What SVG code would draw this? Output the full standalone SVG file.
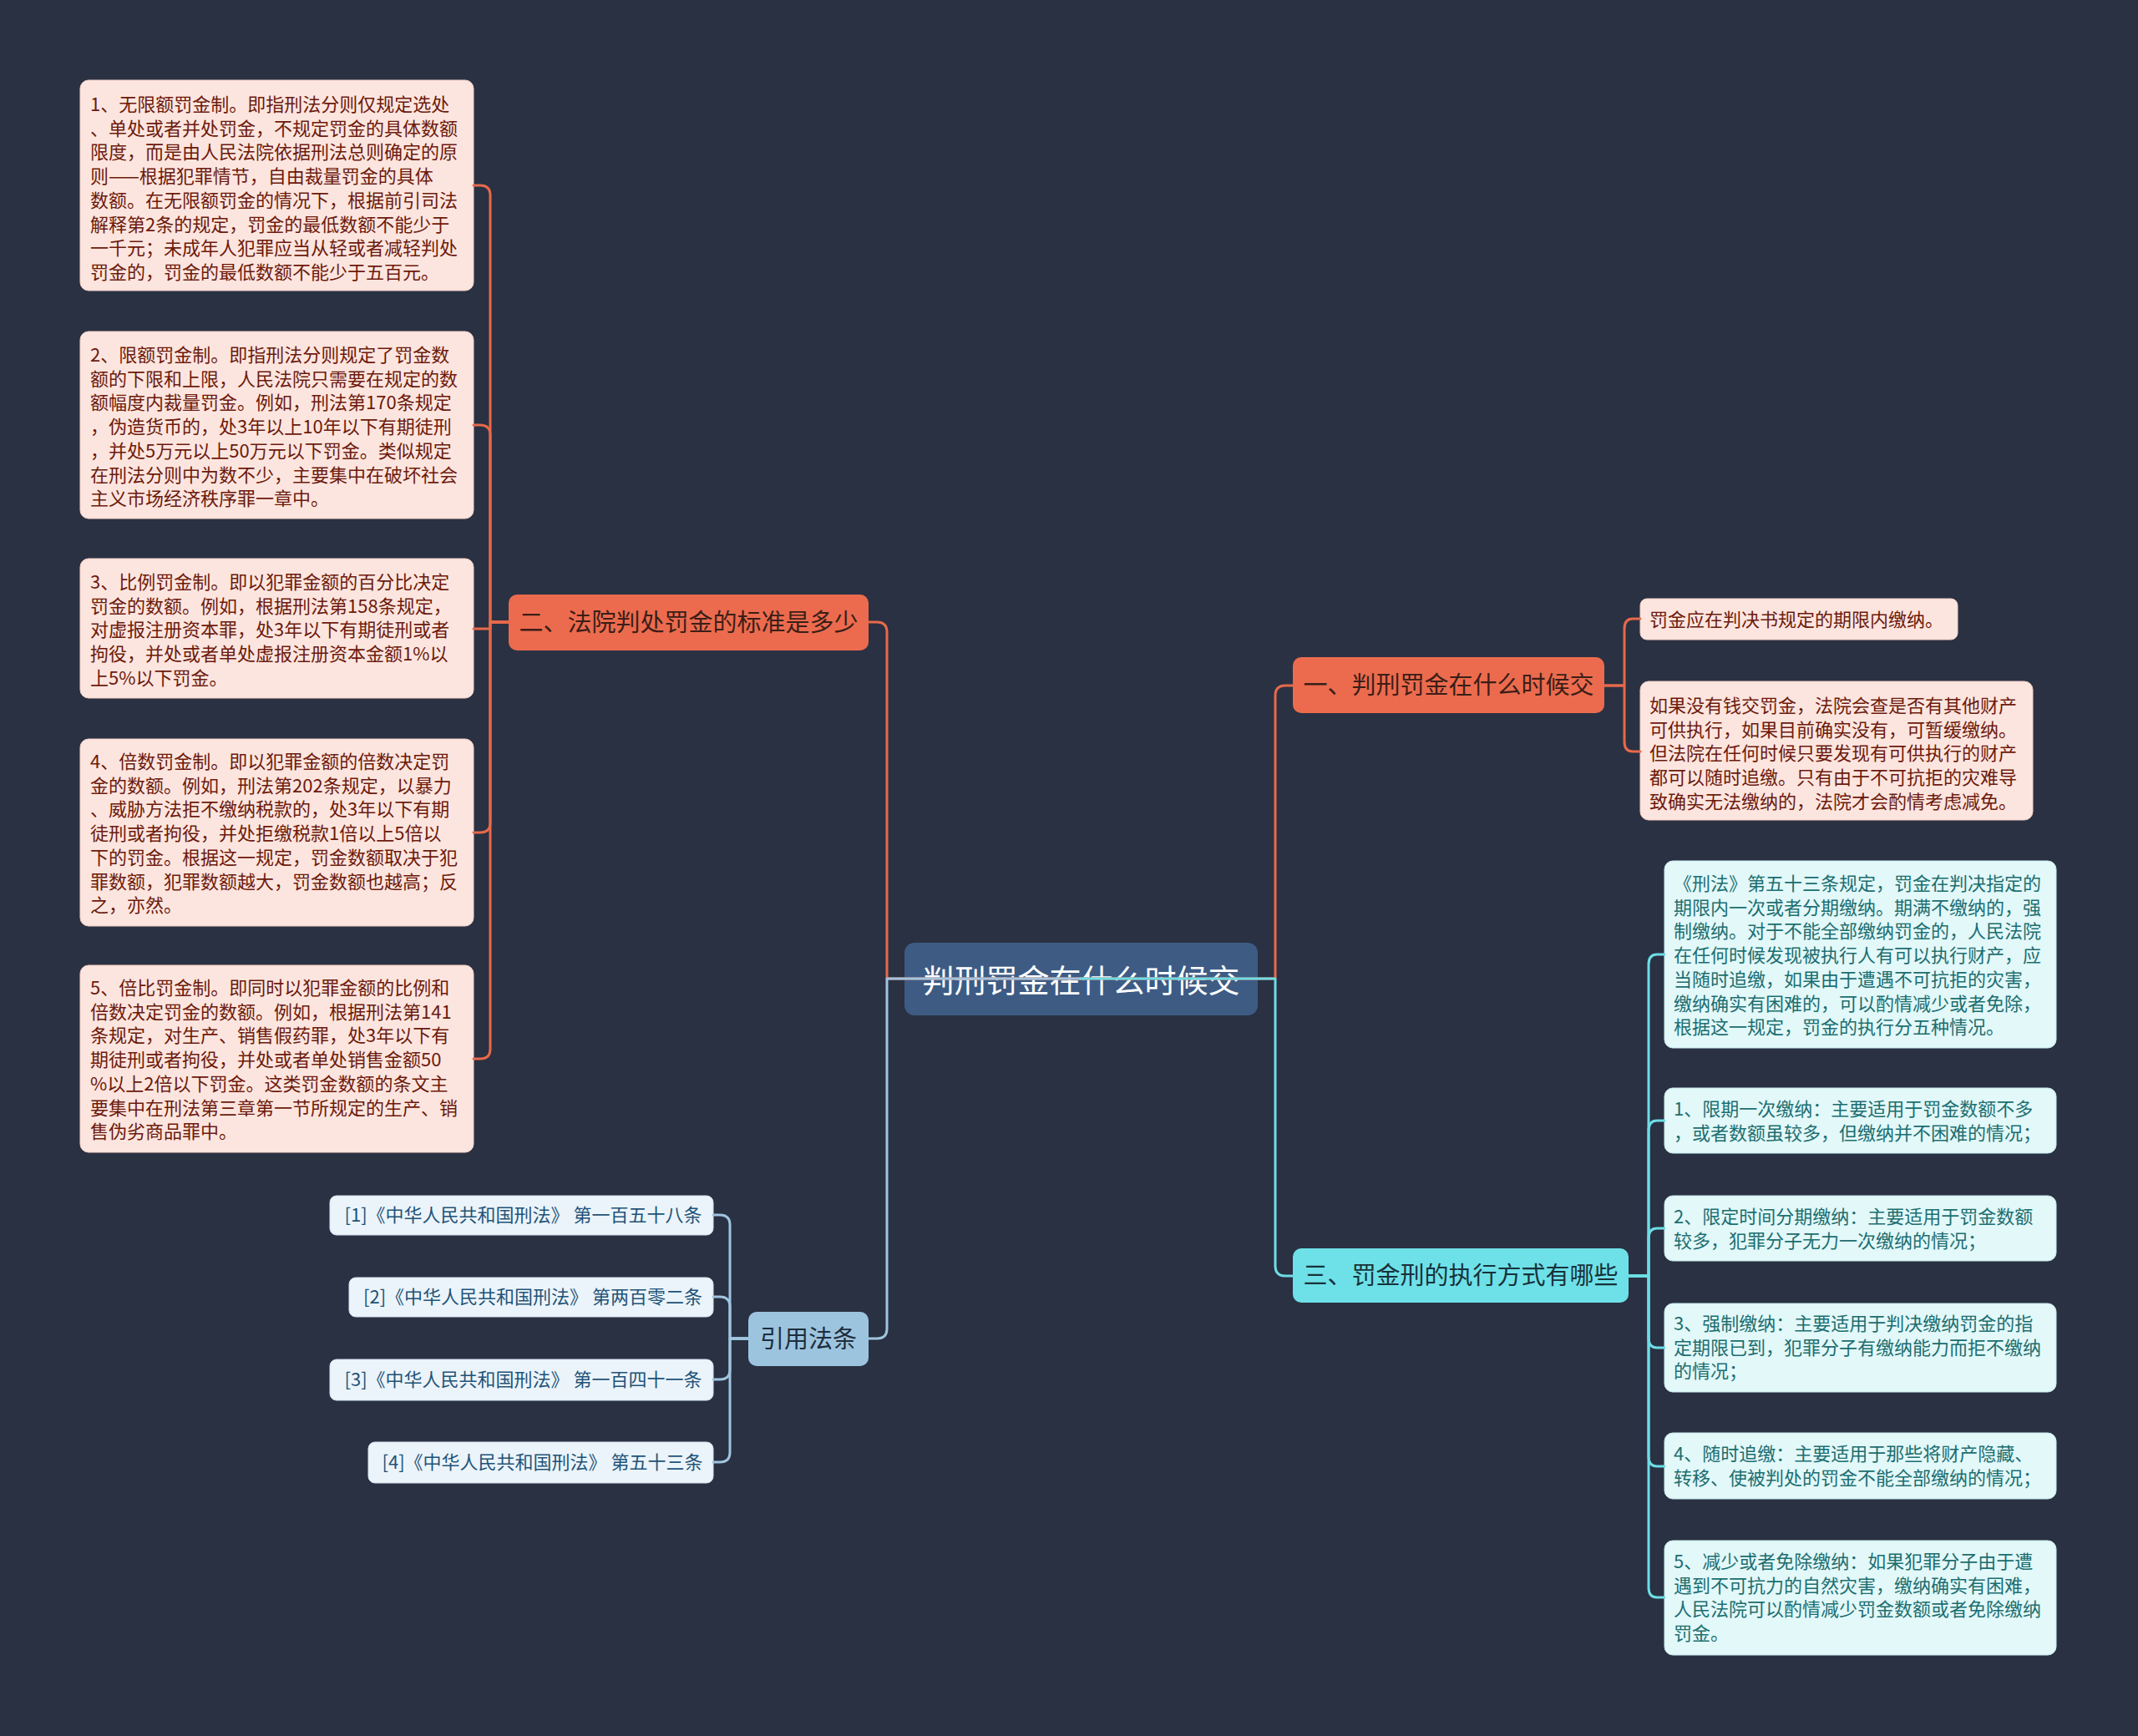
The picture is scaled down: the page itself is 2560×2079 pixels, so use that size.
<svg xmlns="http://www.w3.org/2000/svg" width="2560" height="2079" viewBox="0 0 2560 2079">
<style>
text{font-family:"Noto Sans CJK SC","Noto Sans",sans-serif;}
.bg{fill:#2A3142;}
.root{fill:#3E5B84;}
.rootT{fill:#FFFFFF;font-size:38px;text-anchor:middle;}
.br{fill:#EC6B4E;}
.brT{fill:#3B1E17;font-size:29px;text-anchor:middle;}
.cy{fill:#6EE0E8;}
.cyT{fill:#17323A;font-size:29px;text-anchor:middle;}
.bl{fill:#9DC4DF;}
.blT{fill:#1E2D3B;font-size:29px;text-anchor:middle;}
.pk{fill:#FDE5DF;stroke:#F2CFC6;stroke-width:1;}
.pkT{fill:#6C1A0C;font-size:22px;}
.lc{fill:#E2F8F9;stroke:#C8ECEE;stroke-width:1;}
.lcT{fill:#1C6E70;font-size:22px;}
.rf{fill:#EBF4FA;stroke:#D0E2EE;stroke-width:1;}
.rfT{fill:#1F5378;font-size:22px;text-anchor:middle;}
.c{fill:none;stroke-width:3;stroke-linecap:round;stroke-linejoin:round;}
.co{stroke:#E8694A;}
.cb{stroke:#9FC5E0;}
.cc{stroke:#6DDDE5;}
</style>
<rect class="bg" x="0" y="0" width="2560" height="2079"/>

<g id="nodes">
<g id="root">
<rect class="root" x="1083" y="1129" width="423" height="87" rx="12"/>
<text class="rootT" x="1294.5" y="1188">判刑罚金在什么时候交</text>
</g>

<g id="b2">
<rect class="br" x="609" y="712" width="431" height="67" rx="10"/>
<text class="brT" x="824.5" y="756">二、法院判处罚金的标准是多少</text>
</g>

<g id="b2-1">
<rect class="pk" x="96" y="96" width="471" height="252" rx="10"/>
<text class="pkT"><tspan x="108" y="133">1、无限额罚金制。即指刑法分则仅规定选处</tspan><tspan x="108" y="161.7">、单处或者并处罚金，不规定罚金的具体数额</tspan><tspan x="108" y="190.4">限度，而是由人民法院依据刑法总则确定的原</tspan><tspan x="108" y="219.1">则——根据犯罪情节，自由裁量罚金的具体</tspan><tspan x="108" y="247.8">数额。在无限额罚金的情况下，根据前引司法</tspan><tspan x="108" y="276.5">解释第2条的规定，罚金的最低数额不能少于</tspan><tspan x="108" y="305.2">一千元；未成年人犯罪应当从轻或者减轻判处</tspan><tspan x="108" y="333.9">罚金的，罚金的最低数额不能少于五百元。</tspan></text>
</g>

<g id="b2-2">
<rect class="pk" x="96" y="397" width="471" height="224" rx="10"/>
<text class="pkT"><tspan x="108" y="433">2、限额罚金制。即指刑法分则规定了罚金数</tspan><tspan x="108" y="461.7">额的下限和上限，人民法院只需要在规定的数</tspan><tspan x="108" y="490.4">额幅度内裁量罚金。例如，刑法第170条规定</tspan><tspan x="108" y="519.1">，伪造货币的，处3年以上10年以下有期徒刑</tspan><tspan x="108" y="547.8">，并处5万元以上50万元以下罚金。类似规定</tspan><tspan x="108" y="576.5">在刑法分则中为数不少，主要集中在破坏社会</tspan><tspan x="108" y="605.2">主义市场经济秩序罪一章中。</tspan></text>
</g>

<g id="b2-3">
<rect class="pk" x="96" y="669" width="471" height="167" rx="10"/>
<text class="pkT"><tspan x="108" y="705">3、比例罚金制。即以犯罪金额的百分比决定</tspan><tspan x="108" y="733.7">罚金的数额。例如，根据刑法第158条规定，</tspan><tspan x="108" y="762.4">对虚报注册资本罪，处3年以下有期徒刑或者</tspan><tspan x="108" y="791.1">拘役，并处或者单处虚报注册资本金额1%以</tspan><tspan x="108" y="819.8">上5%以下罚金。</tspan></text>
</g>

<g id="b2-4">
<rect class="pk" x="96" y="885" width="471" height="224" rx="10"/>
<text class="pkT"><tspan x="108" y="920">4、倍数罚金制。即以犯罪金额的倍数决定罚</tspan><tspan x="108" y="948.7">金的数额。例如，刑法第202条规定，以暴力</tspan><tspan x="108" y="977.4">、威胁方法拒不缴纳税款的，处3年以下有期</tspan><tspan x="108" y="1006.1">徒刑或者拘役，并处拒缴税款1倍以上5倍以</tspan><tspan x="108" y="1034.8">下的罚金。根据这一规定，罚金数额取决于犯</tspan><tspan x="108" y="1063.5">罪数额，犯罪数额越大，罚金数额也越高；反</tspan><tspan x="108" y="1092.2">之，亦然。</tspan></text>
</g>

<g id="b2-5">
<rect class="pk" x="96" y="1156" width="471" height="224" rx="10"/>
<text class="pkT"><tspan x="108" y="1191">5、倍比罚金制。即同时以犯罪金额的比例和</tspan><tspan x="108" y="1219.7">倍数决定罚金的数额。例如，根据刑法第141</tspan><tspan x="108" y="1248.4">条规定，对生产、销售假药罪，处3年以下有</tspan><tspan x="108" y="1277.1">期徒刑或者拘役，并处或者单处销售金额50</tspan><tspan x="108" y="1305.8">%以上2倍以下罚金。这类罚金数额的条文主</tspan><tspan x="108" y="1334.5">要集中在刑法第三章第一节所规定的生产、销</tspan><tspan x="108" y="1363.2">售伪劣商品罪中。</tspan></text>
</g>

<g id="refs">
<rect class="bl" x="896" y="1571" width="144" height="65" rx="10"/>
<text class="blT" x="968" y="1614">引用法条</text>
</g>

<g id="ref-1">
<rect class="rf" x="395" y="1432" width="459" height="47" rx="8"/>
<text class="rfT" x="626.5" y="1463">[1]《中华人民共和国刑法》 第一百五十八条</text>
</g>
<g id="ref-2">
<rect class="rf" x="418" y="1530" width="436" height="47" rx="8"/>
<text class="rfT" x="638" y="1561">[2]《中华人民共和国刑法》 第两百零二条</text>
</g>
<g id="ref-3">
<rect class="rf" x="395" y="1628" width="459" height="49" rx="8"/>
<text class="rfT" x="626.5" y="1660">[3]《中华人民共和国刑法》 第一百四十一条</text>
</g>
<g id="ref-4">
<rect class="rf" x="441" y="1727" width="413" height="49" rx="8"/>
<text class="rfT" x="649.5" y="1759">[4]《中华人民共和国刑法》 第五十三条</text>
</g>

<g id="b1">
<rect class="br" x="1548" y="787" width="373" height="67" rx="10"/>
<text class="brT" x="1734.5" y="831">一、判刑罚金在什么时候交</text>
</g>
<g id="b1-1">
<rect class="pk" x="1964" y="717" width="380" height="49" rx="8"/>
<text class="pkT"><tspan x="1975" y="750">罚金应在判决书规定的期限内缴纳。</tspan></text>
</g>
<g id="b1-2">
<rect class="pk" x="1964" y="816" width="470" height="166" rx="10"/>
<text class="pkT"><tspan x="1975" y="853">如果没有钱交罚金，法院会查是否有其他财产</tspan><tspan x="1975" y="881.7">可供执行，如果目前确实没有，可暂缓缴纳。</tspan><tspan x="1975" y="910.4">但法院在任何时候只要发现有可供执行的财产</tspan><tspan x="1975" y="939.1">都可以随时追缴。只有由于不可抗拒的灾难导</tspan><tspan x="1975" y="967.8">致确实无法缴纳的，法院才会酌情考虑减免。</tspan></text>
</g>

<g id="b3">
<rect class="cy" x="1548" y="1495" width="402" height="65" rx="10"/>
<text class="cyT" x="1749" y="1538">三、罚金刑的执行方式有哪些</text>
</g>
<g id="b3-0">
<rect class="lc" x="1993" y="1031" width="469" height="224" rx="10"/>
<text class="lcT"><tspan x="2004" y="1066">《刑法》第五十三条规定，罚金在判决指定的</tspan><tspan x="2004" y="1094.7">期限内一次或者分期缴纳。期满不缴纳的，强</tspan><tspan x="2004" y="1123.4">制缴纳。对于不能全部缴纳罚金的，人民法院</tspan><tspan x="2004" y="1152.1">在任何时候发现被执行人有可以执行财产，应</tspan><tspan x="2004" y="1180.8">当随时追缴，如果由于遭遇不可抗拒的灾害，</tspan><tspan x="2004" y="1209.5">缴纳确实有困难的，可以酌情减少或者免除，</tspan><tspan x="2004" y="1238.2">根据这一规定，罚金的执行分五种情况。</tspan></text>
</g>
<g id="b3-1">
<rect class="lc" x="1993" y="1303" width="469" height="78" rx="10"/>
<text class="lcT"><tspan x="2004" y="1336">1、限期一次缴纳：主要适用于罚金数额不多</tspan><tspan x="2004" y="1364.7">，或者数额虽较多，但缴纳并不困难的情况；</tspan></text>
</g>
<g id="b3-2">
<rect class="lc" x="1993" y="1432" width="469" height="78" rx="10"/>
<text class="lcT"><tspan x="2004" y="1465">2、限定时间分期缴纳：主要适用于罚金数额</tspan><tspan x="2004" y="1493.7">较多，犯罪分子无力一次缴纳的情况；</tspan></text>
</g>
<g id="b3-3">
<rect class="lc" x="1993" y="1561" width="469" height="106" rx="10"/>
<text class="lcT"><tspan x="2004" y="1593">3、强制缴纳：主要适用于判决缴纳罚金的指</tspan><tspan x="2004" y="1621.7">定期限已到，犯罪分子有缴纳能力而拒不缴纳</tspan><tspan x="2004" y="1650.4">的情况；</tspan></text>
</g>
<g id="b3-4">
<rect class="lc" x="1993" y="1716" width="469" height="79" rx="10"/>
<text class="lcT"><tspan x="2004" y="1749">4、随时追缴：主要适用于那些将财产隐藏、</tspan><tspan x="2004" y="1777.7">转移、使被判处的罚金不能全部缴纳的情况；</tspan></text>
</g>
<g id="b3-5">
<rect class="lc" x="1993" y="1845" width="469" height="137" rx="10"/>
<text class="lcT"><tspan x="2004" y="1878">5、减少或者免除缴纳：如果犯罪分子由于遭</tspan><tspan x="2004" y="1906.7">遇到不可抗力的自然灾害，缴纳确实有困难，</tspan><tspan x="2004" y="1935.4">人民法院可以酌情减少罚金数额或者免除缴纳</tspan><tspan x="2004" y="1964.1">罚金。</tspan></text>
</g>
</g>

<g id="connectors">
<path class="c co" d="M1294,1172 H1062 V757 Q1062,745 1050,745 H1040"/>
<path class="c co" d="M1294,1172 H1527 V833 Q1527,821 1539,821 H1548"/>
<path class="c cb" d="M1294,1172 H1062 V1591 Q1062,1603 1050,1603 H1040"/>
<path class="c cc" d="M1294,1172 H1527 V1516 Q1527,1528 1539,1528 H1548"/>

<path class="c co" d="M609,745 H587 V234 Q587,222 575,222 H567"/>
<path class="c co" d="M609,745 H587 V521 Q587,509 575,509 H567"/>
<path class="c co" d="M609,745 H587 V753 H567"/>
<path class="c co" d="M609,745 H587 V985 Q587,997 575,997 H567"/>
<path class="c co" d="M609,745 H587 V1256 Q587,1268 575,1268 H567"/>

<path class="c cb" d="M896,1603 H874 V1467 Q874,1455 862,1455 H854"/>
<path class="c cb" d="M896,1603 H874 V1565 Q874,1553 862,1553 H854"/>
<path class="c cb" d="M896,1603 H874 V1640 Q874,1652 862,1652 H854"/>
<path class="c cb" d="M896,1603 H874 V1739 Q874,1751 862,1751 H854"/>

<path class="c co" d="M1921,821 H1945 V753 Q1945,741 1955,741 H1964"/>
<path class="c co" d="M1921,821 H1945 V888 Q1945,900 1955,900 H1964"/>

<path class="c cc" d="M1950,1528 H1974 V1155 Q1974,1143 1984,1143 H1993"/>
<path class="c cc" d="M1950,1528 H1974 V1354 Q1974,1342 1984,1342 H1993"/>
<path class="c cc" d="M1950,1528 H1974 V1483 Q1974,1471 1984,1471 H1993"/>
<path class="c cc" d="M1950,1528 H1974 V1602 Q1974,1614 1984,1614 H1993"/>
<path class="c cc" d="M1950,1528 H1974 V1744 Q1974,1756 1984,1756 H1993"/>
<path class="c cc" d="M1950,1528 H1974 V1901 Q1974,1913 1984,1913 H1993"/>
</g>
</svg>
